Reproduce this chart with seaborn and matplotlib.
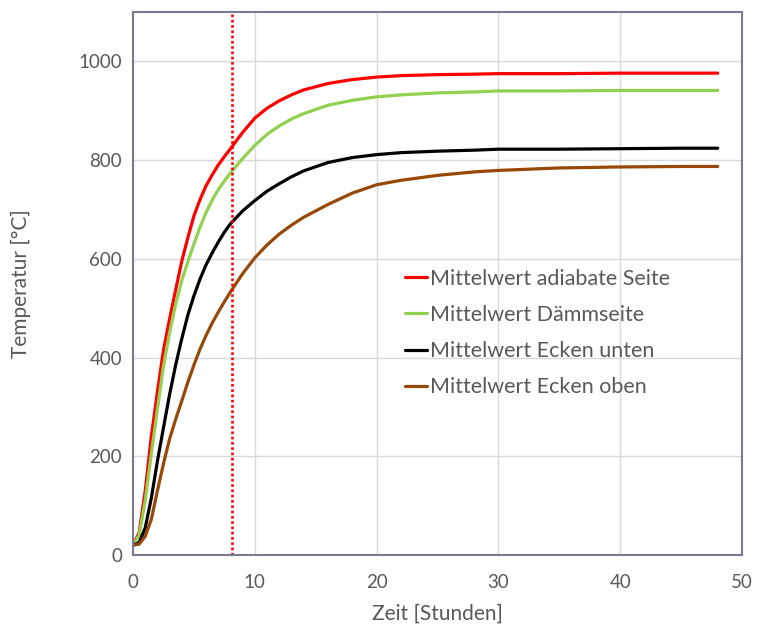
import numpy as np
import pandas as pd
import seaborn as sns
import matplotlib.pyplot as plt

# Zeitpunkte [Stunden]
zeit = [0, 0.5, 1, 1.5, 2, 2.5, 3, 3.5, 4, 4.5, 5, 5.5, 6, 6.5, 7, 7.5, 8,
        9, 10, 11, 12, 13, 14, 16, 18, 20, 22, 25, 28, 30, 35, 40, 45, 48]

# Mittelwerte [°C]
adiabat = [20, 45, 130, 240, 330, 415, 478, 537, 595, 643, 687, 720, 748, 770, 790, 807, 823,
           856, 885, 905, 920, 932, 942, 955, 963, 968, 971, 973, 974, 975, 975, 976, 976, 976]
daemm = [20, 40, 110, 205, 295, 383, 450, 508, 556, 594, 630, 664, 694, 719, 740, 758, 774,
         803, 830, 852, 869, 883, 894, 911, 921, 928, 932, 936, 938, 940, 940, 941, 941, 941]
ecken_unten = [20, 25, 55, 115, 190, 258, 325, 385, 438, 486, 525, 559, 588, 612, 634, 654, 671,
               697, 718, 737, 752, 766, 778, 795, 805, 811, 815, 818, 820, 822, 822, 823, 824, 824]
ecken_oben = [20, 22, 38, 72, 130, 185, 235, 275, 312, 350, 385, 417, 445, 470, 492, 513, 533,
              570, 602, 628, 650, 668, 684, 710, 733, 750, 759, 769, 776, 779, 784, 786, 787, 787]

serien = ['Mittelwert adiabate Seite', 'Mittelwert Dämmseite',
          'Mittelwert Ecken unten', 'Mittelwert Ecken oben']
farben = ['#FF0000', '#92D050', '#000000', '#974706']
marker_zeit = 8.1  # rote gepunktete Linie

# Long-Format für seaborn
df = pd.concat([
    pd.DataFrame({'Zeit': zeit, 'Temperatur': werte, 'Serie': name})
    for name, werte in zip(serien, [adiabat, daemm, ecken_unten, ecken_oben])
])

sns.set_style('white')
plt.rcParams['font.family'] = ['Lato', 'DejaVu Sans']

fig = plt.figure(figsize=(7.58, 6.28), dpi=100)
ax = fig.add_axes([0.1755, 0.1162, 0.8035, 0.8648])

ax.grid(True, color='#D9D9D9', linewidth=1)
ax.set_axisbelow(True)

sns.lineplot(data=df, x='Zeit', y='Temperatur', hue='Serie', hue_order=serien,
             palette=farben, linewidth=2.3, ax=ax)

ax.axvline(marker_zeit, color='#FF0000', linestyle=(0, (1, 1)), linewidth=1.9)

ax.set_xlim(0, 50)
ax.set_ylim(0, 1100)
ax.set_xticks(range(0, 51, 10))
ax.set_yticks(range(0, 1001, 200))
ax.tick_params(length=0, labelsize=13.5, labelcolor='#595959')
ax.tick_params(axis='x', pad=14)
ax.tick_params(axis='y', pad=8)

ax.set_xlabel('Zeit [Stunden]', fontsize=15, color='#595959', labelpad=9)
ax.set_ylabel('Temperatur [°C]', fontsize=15, color='#595959', labelpad=34)

for s in ax.spines.values():
    s.set_color('#7D7893')
    s.set_linewidth(1.5)

leg = ax.legend(loc='upper left', bbox_to_anchor=(0.447, 0.527), frameon=False,
                fontsize=15.5, handlelength=1.0, handletextpad=0.15, labelspacing=0.75,
                borderpad=0, borderaxespad=0)
for t in leg.get_texts():
    t.set_color('#595959')

fig.savefig('out.png', dpi=100)
